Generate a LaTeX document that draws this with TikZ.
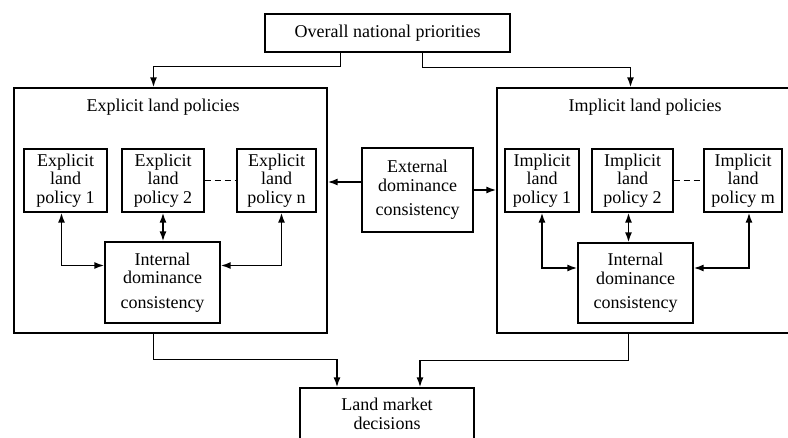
\documentclass[tikz,border=0pt]{standalone}
\usepackage{fontspec}
\setmainfont{Liberation Serif}
\usetikzlibrary{arrows.meta}

\begin{document}
\begin{tikzpicture}[x=1pt,y=-1pt,semithick]
        \tikzstyle{policybox}=[
            draw=black,
            line width=1.2pt,
            align=center,
            inner sep=2pt,
            font=\fontsize{18}{18.5}\selectfont
        ]
        \tikzstyle{groupbox}=[
            draw=black,
            line width=1.2pt,
            minimum width=313pt,
            minimum height=245pt
        ]
        \tikzstyle{grouptitle}=[font=\fontsize{18}{18.5}\selectfont]
        \tikzstyle{link}=[line width=1.8pt, -{Latex[length=10pt,width=7pt]}]
        \tikzstyle{dbllink}=[line width=1.8pt, {Latex[length=10pt,width=7pt]}-{Latex[length=10pt,width=7pt]}]

        \useasboundingbox (0,0) rectangle (788,438);
        \clip (0,0) rectangle (788,438);

        \node[groupbox] (lbig) at (170.5,210.5){};
        \node[groupbox] (rbig) at (653.5,210.5){};
        \node[grouptitle] (ltitle) at (163,107){Explicit land policies};
        \node[grouptitle] (rtitle) at (645,107){Implicit land policies};

        \node[policybox, minimum width=245pt, minimum height=38pt] (top) at (387.5,33){Overall national priorities};

        \node[policybox, minimum width=83pt, minimum height=63pt] (E1) at (65.5,180.5){Explicit\\land\\policy 1};
        \node[policybox, minimum width=82pt, minimum height=63pt] (E2) at (163,180.5){Explicit\\land\\policy 2};
        \node[policybox, minimum width=79pt, minimum height=63pt] (En) at (276.5,180.5){Explicit\\land\\policy n};
        \node[policybox, minimum width=115pt, minimum height=81pt] (intL) at (162.5,282.5){Internal\\dominance\\[6pt]consistency};

        \node[policybox, minimum width=111pt, minimum height=84pt] (ext) at (417.5,190){External\\dominance\\[6pt]consistency};

        \node[policybox, minimum width=74pt, minimum height=63pt] (I1) at (542,180.5){Implicit\\land\\policy 1};
        \node[policybox, minimum width=81pt, minimum height=63pt] (I2) at (632.5,180.5){Implicit\\land\\policy 2};
        \node[policybox, minimum width=78pt, minimum height=63pt] (Im) at (743,180.5){Implicit\\land\\policy m};
        \node[policybox, minimum width=115pt, minimum height=80pt] (intR) at (635.5,283){Internal\\dominance\\[6pt]consistency};

        \node[policybox, minimum width=174pt, minimum height=52pt] (land) at (387,414){Land market\\decisions};

        % priorities to the two groups
        \draw[link] ([xshift=-47pt]top.south) -- ++(0,14) -| ([xshift=-17pt]lbig.north);
        \draw[link] ([xshift=35pt]top.south) -- ++(0,15) -| ([xshift=-23pt]rbig.north);

        % external consistency
        \draw[link] ([yshift=8pt]ext.west) -- ([yshift=8pt]ext.west -| lbig.east);
        \draw[link] (ext.east) -- (ext.east -| rbig.west);

        \draw[line width=1.2pt, dash pattern=on 6pt off 4pt] (E2.east) -- (En.west);
        \draw[line width=1.2pt, dash pattern=on 6pt off 4pt] (I2.east) -- (Im.west);

        \draw[dbllink] ([xshift=-4pt]E1.south) |- ([yshift=17pt]intL.west);
        \draw[dbllink] (E2.south) -- (E2.south |- intL.north);
        \draw[dbllink] ([xshift=5pt]En.south) |- ([yshift=17pt]intL.east);

        \draw[dbllink] (I1.south) |- ([yshift=15pt]intR.west);
        \draw[dbllink] ([xshift=-4pt]I2.south) -- ([xshift=-4pt]I2.south |- intR.north);
        \draw[dbllink] ([xshift=6pt]Im.south) |- ([yshift=15pt]intR.east);

        % groups to market decisions
        \draw[link] ([xshift=-17pt]lbig.south) -- ++(0,26) -| ([xshift=-50pt]land.north);
        \draw[link] ([xshift=-25pt]rbig.south) -- ++(0,27) -| ([xshift=33pt]land.north);

    \end{tikzpicture}
\end{document}
